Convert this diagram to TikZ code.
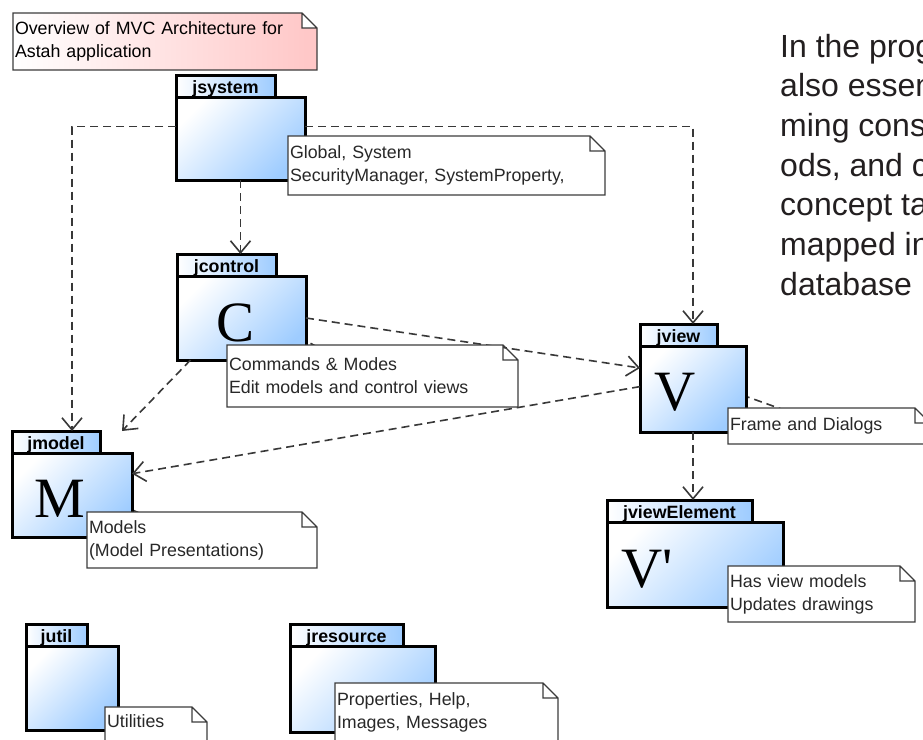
\documentclass[tikz,border=0pt]{standalone}
\usepackage{fontspec}
\setmainfont{Liberation Sans}
\newfontfamily\letterfont{Liberation Serif}
\usepackage{tikz}
\usetikzlibrary{positioning, calc, arrows.meta}

\definecolor{pkgblue}{RGB}{158,204,255}
\definecolor{notepink}{RGB}{255,198,198}
\definecolor{noteline}{RGB}{60,60,60}
\definecolor{depline}{RGB}{56,56,56}
\definecolor{notetext}{RGB}{40,40,40}
\definecolor{paratext}{RGB}{35,31,32}

\pgfdeclarelayer{background}
\pgfdeclarelayer{notebg}
\pgfdeclarelayer{front}
\pgfsetlayers{background,main,notebg,front}

\begin{document}
\begin{tikzpicture}[x=1pt, y=-1pt,
    pkgbox/.style={draw, line width=3pt, left color=white, right color=pkgblue, shading angle=45, anchor=north west, inner sep=0pt, outer sep=0pt},
    pkgtab/.style={draw, line width=3pt, left color=white, right color=pkgblue, anchor=south west, inner sep=0pt, outer sep=0pt, minimum height=22pt, text height=18.5pt, text depth=3.5pt, font=\fontsize{17.8}{20}\selectfont\bfseries},
    bigletter/.style={anchor=base west, inner sep=0pt, font=\letterfont\fontsize{57}{60}\selectfont},
    notebox/.style={anchor=north west, inner xsep=2pt, inner ysep=0pt, outer sep=0pt, align=left, text=notetext, font=\fontsize{17.8}{23}\selectfont},
    noteframe/.style={draw=noteline, line width=1.3pt},
    dep/.style={draw=depline, line width=1.6pt, dash pattern=on 8pt off 5pt, -{Straight Barb[length=12pt, width=20pt]}},
    noteanchor/.style={draw=depline, line width=1.6pt, dash pattern=on 8pt off 5pt},
    para/.style={anchor=base west, inner sep=0pt, text=paratext, font=\fontsize{32}{39.7}\selectfont}]
    \useasboundingbox (0,0) rectangle (923,739);
    \begin{pgfonlayer}{background}
        \fill[white] (0,0) rectangle (923,739);
    \end{pgfonlayer}

    % packages
    \node[pkgbox, minimum width=129pt, minimum height=83pt] (sysbox) at (176,97) {};
    \node[pkgtab, minimum width=99pt] (systab) at (sysbox.north west) {jsystem};
    \node[pkgbox, minimum width=129pt, minimum height=84pt] (ctrlbox) at (177,276) {};
    \node[pkgtab, minimum width=99pt] (ctrltab) at (ctrlbox.north west) {jcontrol};
    \node[pkgbox, minimum width=106pt, minimum height=86pt] (viewbox) at (640,346) {};
    \node[pkgtab, minimum width=77pt] (viewtab) at (viewbox.north west) {jview};
    \node[pkgbox, minimum width=120pt, minimum height=84pt] (modelbox) at (12,453) {};
    \node[pkgtab, minimum width=88pt] (modeltab) at (modelbox.north west) {jmodel};
    \node[pkgbox, minimum width=176pt, minimum height=85pt] (velembox) at (607,522) {};
    \node[pkgtab, minimum width=145pt] (velemtab) at (velembox.north west) {jviewElement};
    \node[pkgbox, minimum width=92pt, minimum height=84pt] (utilbox) at (26,646) {};
    \node[pkgtab, minimum width=61pt] (utiltab) at (utilbox.north west) {jutil};
    \node[pkgbox, minimum width=145pt, minimum height=86pt] (resbox) at (290,646) {};
    \node[pkgtab, minimum width=113pt] (restab) at (resbox.north west) {jresource};

    \node[bigletter] (cletter) at (216.5,341) {C};
    \node[bigletter] (mletter) at (34,517) {M};
    \node[bigletter] (vletter) at (654,410) {V};
    \node[bigletter] (veletter) at (621,587) {V\textquotesingle};

    % dependencies
    \draw[dep] ([yshift=12pt]sysbox.west) -| (modelbox.north |- modeltab.north);
    \draw[dep] ([yshift=12pt]sysbox.east) -| (viewbox.north |- viewtab.north);
    \draw[dep] (sysbox.south) -- (sysbox.south |- ctrltab.north);
    \draw[dep] (ctrlbox.east) -- ([yshift=21pt]viewbox.west);
    \draw[dep] ([xshift=-51pt]ctrlbox.south) -- ($(modelbox.north east |- modeltab.north)+(-10,0)$);
    \draw[dep] ([yshift=2.4pt]viewbox.west) -- ([yshift=21.3pt]modelbox.east);
    \draw[dep] (viewbox.south) -- (viewbox.south |- velemtab.north);

    % notes
    \begin{pgfonlayer}{front}
        \node[notebox, text width=300pt, minimum height=57pt, text=black] (title) at (13,13) {Overview of MVC Architecture for\\Astah application};
        \node[notebox, text width=313pt, minimum height=59pt] (sysnote) at (288,136) {Global, System\\SecurityManager, SystemProperty,};
        \node[notebox, text width=287pt, minimum height=62pt] (ctrlnote) at (227,345) {Commands \& Modes\\Edit models and control views};
        \node[notebox, text width=198pt, text height=22pt, text depth=14pt] (viewnote) at (728,408) {Frame and Dialogs};
        \node[notebox, text width=226pt, minimum height=56pt] (modelnote) at (87,512) {Models\\(Model Presentations)};
        \node[notebox, text width=183pt, minimum height=56pt] (velemnote) at (728,566) {Has view models\\Updates drawings};
        \node[notebox, text width=219pt, minimum height=58pt] (resnote) at (335,683) {Properties, Help,\\Images, Messages};
        \node[notebox, text width=98pt, text height=20pt, text depth=20pt] (utilnote) at (105,707) {Utilities};
    \end{pgfonlayer}

    \begin{pgfonlayer}{notebg}
        \foreach \n in {sysnote, ctrlnote, viewnote, modelnote, velemnote, resnote, utilnote}
            \draw[noteframe, fill=white] (\n.north west) -- ($(\n.north east)+(-15,0)$) -- ($(\n.north east)+(0,15)$) -- (\n.south east) -- (\n.south west) -- cycle
                ($(\n.north east)+(-15,0)$) |- ($(\n.north east)+(0,15)$);
        \draw[noteframe, left color=white, right color=notepink] (title.north west) -- ($(title.north east)+(-15,0)$) -- ($(title.north east)+(0,15)$) -- (title.south east) -- (title.south west) -- cycle
            ($(title.north east)+(-15,0)$) |- ($(title.north east)+(0,15)$);
    \end{pgfonlayer}

    % note links
    \begin{pgfonlayer}{background}
        \draw[noteanchor] ([yshift=11pt]sysbox.center) -- (sysnote.center);
        \draw[noteanchor] ([yshift=11pt]ctrlbox.center) -- (ctrlnote.center);
        \draw[noteanchor] ([yshift=11.5pt]viewbox.center) -- (viewnote.center);
        \draw[noteanchor] ([yshift=11pt]modelbox.center) -- (modelnote.center);
        \draw[noteanchor] ([yshift=11pt]velembox.center) -- (velemnote.center);
    \end{pgfonlayer}

    % text beside
    \foreach \t [count=\i] in {In the prog, also essen, ming cons, {ods, and c}, concept ta, mapped in, database}
        \node[para] (para\i) at (780, {57+39.7*(\i-1)}) {\t};
\end{tikzpicture}
\end{document}
